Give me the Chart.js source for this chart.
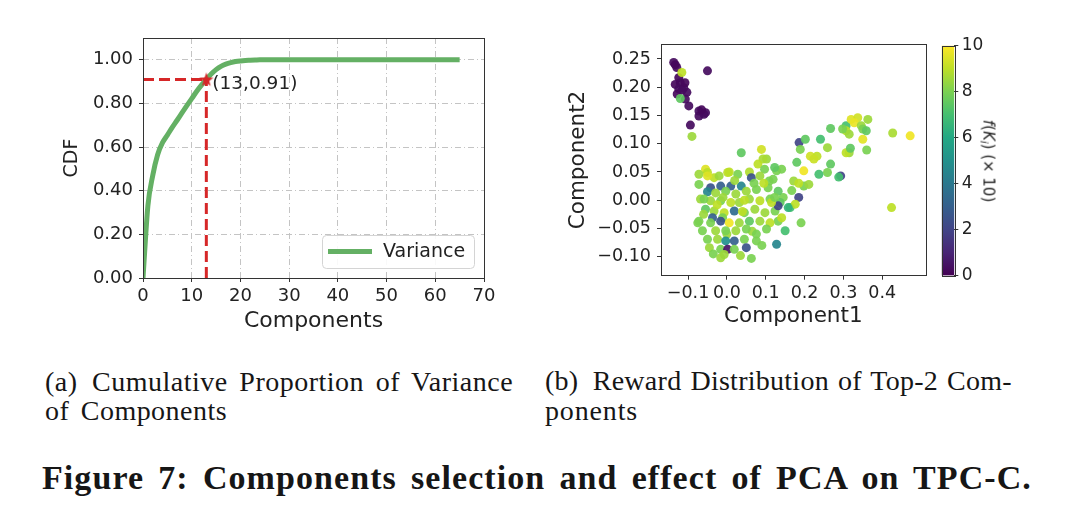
<!DOCTYPE html>
<html>
<head>
<meta charset="utf-8">
<script src="https://cdn.jsdelivr.net/npm/chart.js@4.4.1/dist/chart.umd.min.js"></script>
<style>
html, body { margin: 0; padding: 0; background: #fff; }
body { width: 1080px; height: 523px; position: relative; overflow: hidden; }
canvas { position: absolute; }
.cap { position: absolute; font-family: 'Liberation Serif', serif; font-size: 28px; line-height: 28px; white-space: pre; color: #161616; }
.fig { font-weight: bold; font-size: 34px; line-height: 34px; }
#cbLabel { position: absolute; left: 988px; top: 161px; transform: translate(-50%, -50%) rotate(90deg); font-family: 'DejaVu Sans', sans-serif; font-size: 15px; white-space: nowrap; color: #222; }
#cbLabel sub { font-size: 10px; vertical-align: -3px; }
</style>
</head>
<body>
<canvas id="cdfChart" width="540" height="345" style="left:0;top:0"></canvas>
<canvas id="pcaChart" width="380" height="345" style="left:560px;top:0"></canvas>
<canvas id="cbChart" width="150" height="345" style="left:930px;top:0"></canvas>
<div id="cbLabel"><i>f</i>(<i>K<sub>i</sub></i>) (× 10)</div>

<div class="cap fit" data-w="468" style="left:45px;top:368px">(a)&#8194;Cumulative Proportion of Variance</div>
<div class="cap fit" data-w="182" style="left:45px;top:396.5px">of Components</div>
<div class="cap fit" data-w="467" style="left:545px;top:366.5px">(b)&#8194;Reward Distribution of Top-2 Com-</div>
<div class="cap fit" data-w="93" style="left:545px;top:396.5px">ponents</div>
<div class="cap fig fit" data-w="990" style="left:42px;top:461px">Figure 7: Components selection and effect of PCA on TPC-C.</div>

<script>
// (a) cumulative proportion of variance
var varianceLabel = 'Variance';
var cdfValues = [0, 0.33, 0.47, 0.565, 0.62, 0.655, 0.69, 0.723, 0.757, 0.79,
    0.822, 0.855, 0.884, 0.91, 0.935, 0.955, 0.97, 0.98, 0.987, 0.992,
    0.995, 0.997, 0.998, 0.999, 1, 1, 1, 1, 1, 1,
    1, 1, 1, 1, 1, 1, 1, 1, 1, 1,
    1, 1, 1, 1, 1, 1, 1, 1, 1, 1,
    1, 1, 1, 1, 1, 1, 1, 1, 1, 1,
    1, 1, 1, 1, 1, 1];
var markX = 13;
var markY = 0.91;
var cdfXTicks = [0, 10, 20, 30, 40, 50, 60, 70];
var cdfYTicks = [0, 0.2, 0.4, 0.6, 0.8, 1.0];

// (b) top-2 components, reward f(K_i) x 10
var pcX = [-0.137, -0.129, -0.133, -0.050, -0.124, -0.120, -0.133, -0.111, -0.124, -0.103,
    -0.107, -0.128, -0.098, -0.072, -0.059, -0.072, -0.055, -0.094, -0.115, -0.108,
    -0.065, -0.116, -0.120, -0.090,
    0.472, 0.427, 0.424, 0.267, 0.307, 0.320, 0.337, 0.363, 0.328, 0.346,
    0.350, 0.307, 0.315, 0.298, 0.359, 0.350, 0.360, 0.315, 0.307, 0.318,
    0.186, 0.202, 0.241, 0.259, 0.189, 0.215, 0.232, 0.224, 0.180, 0.267,
    0.259, 0.237, 0.293, 0.288, 0.198, 0.172, 0.198, 0.211, 0.185, 0.141,
    0.145, 0.185, 0.163, 0.176, 0.167, 0.150, 0.191, 0.128, 0.158,
    0.037, 0.089, 0.102, 0.093, 0.080, 0.128, 0.097, 0.123, -0.055, -0.050,
    -0.033, 0.006, 0.028, 0.058, 0.109, 0.119,
    -0.072, -0.050, -0.020, 0.002, 0.063, 0.085, -0.072, -0.042, -0.016, 0.010,
    0.037, -0.050, -0.029, -0.003, 0.023, 0.050, 0.076, 0.106, 0.132, -0.068,
    -0.042, -0.016, 0.010, 0.032, 0.058, 0.085, 0.111, 0.137, -0.055, -0.033,
    -0.007, 0.019, 0.045, 0.072, 0.098, 0.124, -0.037, -0.011, 0.132, 0.115,
    0.123, 0.132, 0.141,
    -0.045, -0.035, 0.035, 0.040, -0.060, -0.025, 0.020, 0.095, 0.065, 0.090,
    0.000, 0.045, -0.010, 0.070,
    -0.072, -0.042, -0.016, 0.006, 0.032, 0.058, 0.085, 0.111, -0.063, -0.029,
    -0.003, 0.023, 0.050, 0.076, 0.102, -0.050, -0.024, -0.003, 0.019, 0.045,
    0.076, -0.016, 0.002, 0.019, 0.050, 0.063, -0.016, -0.007, -0.075, -0.059];
var pcY = [0.244, 0.235, 0.240, 0.229, 0.217, 0.208, 0.205, 0.199, 0.197, 0.191,
    0.179, 0.188, 0.167, 0.158, 0.152, 0.149, 0.155, 0.133, 0.195, 0.208,
    0.160, 0.226, 0.180, 0.113,
    0.114, 0.119, -0.013, 0.127, 0.132, 0.143, 0.146, 0.143, 0.137, 0.132,
    0.126, 0.123, 0.117, 0.126, 0.123, 0.108, 0.089, 0.084, 0.084, 0.092,
    0.102, 0.108, 0.108, 0.093, 0.090, 0.078, 0.078, 0.073, 0.067, 0.064,
    0.049, 0.046, 0.043, 0.041, 0.052, 0.034, 0.025, 0.028, 0.030, 0.055,
    0.005, 0.005, -0.013, -0.007, 0.017, -0.054, -0.040, -0.078, -0.013,
    0.084, 0.090, 0.073, 0.073, 0.064, 0.052, 0.055, 0.058, 0.055, 0.049,
    0.040, 0.050, 0.046, 0.050, 0.034, 0.037,
    0.046, 0.043, 0.043, 0.049, 0.040, 0.043, 0.028, 0.022, 0.025, 0.025,
    0.025, 0.015, 0.013, 0.016, 0.011, 0.016, 0.019, 0.022, 0.016, 0.002,
    -0.001, -0.001, -0.004, -0.004, 0.002, -0.001, 0.002, -0.004, -0.016, -0.019,
    -0.022, -0.019, -0.022, -0.016, -0.022, -0.019, -0.031, -0.031, -0.010, -0.004,
    0.005, -0.037, -0.031,
    -0.084, -0.095, -0.098, -0.020, -0.025, -0.008, 0.035, 0.030, -0.055, -0.080,
    -0.060, 0.000, 0.005, 0.030,
    -0.037, -0.040, -0.037, -0.040, -0.040, -0.037, -0.037, -0.040, -0.054, -0.054,
    -0.054, -0.054, -0.051, -0.060, -0.051, -0.069, -0.069, -0.072, -0.072, -0.069,
    -0.072, -0.087, -0.087, -0.087, -0.084, -0.103, -0.102, -0.096, -0.040, 0.002];
var pcReward = [0.3, 0.3, 0.2, 0.3, 0.2, 0.3, 0.2, 0.4, 0.3, 0.3,
    0.3, 0.2, 0.3, 0.4, 0.3, 0.3, 0.3, 0.3, 0.3, 0.2,
    0.2, 9.0, 7.5, 8.5,
    9.8, 8.7, 9.0, 7.5, 7.0, 9.5, 9.3, 8.5, 9.7, 8.5,
    8.0, 9.0, 8.5, 8.0, 7.5, 9.6, 8.0, 8.5, 9.0, 7.5,
    2.0, 7.5, 7.0, 8.5, 8.0, 9.3, 9.0, 9.2, 7.5, 7.5,
    8.0, 7.0, 2.0, 7.0, 9.8, 8.5, 8.0, 8.5, 9.0, 8.0,
    8.0, 2.0, 7.0, 9.0, 8.0, 7.0, 8.0, 4.5, 6.5,
    7.5, 9.3, 8.5, 8.7, 9.0, 8.0, 8.0, 7.5, 9.5, 9.0,
    9.0, 9.0, 8.0, 8.8, 8.0, 8.0,
    8.5, 9.5, 8.5, 9.0, 2.5, 8.5, 8.0, 2.5, 3.0, 3.0,
    4.5, 4.5, 8.5, 8.0, 8.5, 8.5, 8.0, 8.0, 7.5, 8.5,
    8.5, 8.0, 9.0, 8.5, 8.5, 9.0, 8.0, 7.5, 7.5, 8.5,
    9.0, 3.5, 8.0, 8.5, 8.5, 8.0, 3.0, 8.0, 2.0, 9.0,
    8.0, 8.0, 9.0,
    8.5, 8.0, 8.5, 9.0, 8.5, 9.0, 8.5, 9.0, 8.5, 8.0,
    8.5, 9.0, 8.5, 8.0,
    8.0, 8.0, 2.5, 9.8, 8.5, 7.5, 8.5, 9.0, 8.0, 8.5,
    8.0, 8.5, 8.0, 8.0, 8.0, 8.0, 8.5, 5.0, 3.0, 8.0,
    8.0, 8.0, 0.5, 8.0, 2.5, 8.0, 8.5, 8.5, 8.0, 8.0];
var pcXTicks = [-0.1, 0.0, 0.1, 0.2, 0.3, 0.4];
var pcYTicks = [-0.10, -0.05, 0.00, 0.05, 0.10, 0.15, 0.20, 0.25];
var cbTicks = [0, 2, 4, 6, 8, 10];

var greenColor = '#64b064';
var redColor = '#d62728';
var inkColor = '#222';
var viridisStops = ['#440154', '#482475', '#414487', '#355f8d', '#2a788e', '#21918c',
    '#22a884', '#44bf70', '#7ad151', '#bddf26', '#fde725'];

Chart.defaults.font.family = "'DejaVu Sans', sans-serif";
Chart.defaults.color = inkColor;

function hexRgb(h) {
    return [parseInt(h.substr(1, 2), 16), parseInt(h.substr(3, 2), 16), parseInt(h.substr(5, 2), 16)];
}

/**
 * Viridis colour for t in [0, 1]
 */
function viridis(t, alpha) {
    t = Math.max(0, Math.min(1, t));
    var p = t * (viridisStops.length - 1);
    var i = Math.min(Math.floor(p), viridisStops.length - 2);
    var f = p - i;
    var a = hexRgb(viridisStops[i]), b = hexRgb(viridisStops[i + 1]);
    var c = a.map(function(v, k) { return Math.round(v + (b[k] - v) * f); });
    return 'rgba(' + c[0] + ',' + c[1] + ',' + c[2] + ',' + (alpha === undefined ? 1 : alpha) + ')';
}

function minusSign(s) {
    return s.replace('-', '\u2212');
}

function fixTicks(list) {
    return function(scale) {
        scale.ticks = list.map(function(v) { return {value: v}; });
    };
}

// filled five point star for the marker
var starImg = document.createElement('canvas');
starImg.width = 16;
starImg.height = 16;
(function() {
    var c = starImg.getContext('2d');
    c.fillStyle = redColor;
    c.beginPath();
    for (var k = 0; k < 10; k++) {
        var r = k % 2 === 0 ? 7.5 : 3;
        var ang = -Math.PI / 2 + k * Math.PI / 5;
        c.lineTo(8 + r * Math.cos(ang), 8.5 + r * Math.sin(ang));
    }
    c.closePath();
    c.fill();
})();

var framePlugin = {
    id: 'frame',
    afterDraw: function(chart) {
        var a = chart.chartArea, ctx = chart.ctx;
        ctx.save();
        ctx.strokeStyle = '#333';
        ctx.lineWidth = 1;
        ctx.strokeRect(Math.round(a.left) + 0.5, Math.round(a.top) + 0.5,
            Math.round(a.right - a.left), Math.round(a.bottom - a.top));
        ctx.restore();
    }
};

var markLabelPlugin = {
    id: 'markLabel',
    afterDatasetsDraw: function(chart) {
        var ctx = chart.ctx;
        var px = chart.scales.x.getPixelForValue(markX);
        var py = chart.scales.y.getPixelForValue(markY);
        ctx.save();
        ctx.fillStyle = inkColor;
        ctx.font = "18.5px 'DejaVu Sans'";
        ctx.textBaseline = 'middle';
        ctx.fillText('(' + markX + ',' + markY + ')', px + 6, py + 5);
        ctx.restore();
    }
};

var legendPlugin = {
    id: 'varianceLegend',
    afterDraw: function(chart) {
        var a = chart.chartArea, ctx = chart.ctx;
        var w = 152, h = 33;
        var x = Math.round(a.right - 10 - w), y = Math.round(a.bottom - 10 - h);
        ctx.save();
        ctx.fillStyle = 'rgba(255,255,255,0.9)';
        ctx.strokeStyle = '#d4d4d4';
        ctx.lineWidth = 1;
        ctx.beginPath();
        ctx.roundRect(x + 0.5, y + 0.5, w, h, 4);
        ctx.fill();
        ctx.stroke();
        ctx.strokeStyle = greenColor;
        ctx.lineWidth = 5;
        ctx.beginPath();
        ctx.moveTo(x + 6, y + h / 2);
        ctx.lineTo(x + 50, y + h / 2);
        ctx.stroke();
        ctx.fillStyle = inkColor;
        ctx.font = "19px 'DejaVu Sans'";
        ctx.textBaseline = 'middle';
        ctx.fillText(varianceLabel, x + 61, y + h / 2 + 1);
        ctx.restore();
    }
};

// Creating the CDF chart
var cdfPoints = cdfValues.map(function(v, i) { return {x: i, y: v}; });
new Chart(document.getElementById('cdfChart'), {
    type: 'line',
    data: {
        datasets: [{
            data: [{x: markX, y: markY}],
            showLine: false,
            pointStyle: starImg,
            pointRadius: 7,
            pointHoverRadius: 7
        }, {
            data: [{x: 0, y: markY}, {x: markX, y: markY}],
            borderColor: redColor,
            borderWidth: 3,
            borderDash: [11, 5],
            pointRadius: 0
        }, {
            data: [{x: markX, y: 0}, {x: markX, y: markY}],
            borderColor: redColor,
            borderWidth: 3,
            borderDash: [11, 5],
            pointRadius: 0
        }, {
            label: varianceLabel,
            data: cdfPoints,
            borderColor: greenColor,
            borderWidth: 5,
            pointRadius: 0,
            cubicInterpolationMode: 'monotone'
        }]
    },
    options: {
        responsive: false,
        animation: false,
        devicePixelRatio: 1,
        layout: {padding: {left: 0, top: 38, right: 56, bottom: 0}},
        plugins: {legend: {display: false}, tooltip: {enabled: false}},
        scales: {
            x: {
                type: 'linear', min: 0, max: 70,
                afterBuildTicks: fixTicks(cdfXTicks),
                afterFit: function(s) { s.height = 67; },
                ticks: {font: {size: 18}, padding: 4, maxRotation: 0, autoSkip: false,
                    callback: function(v) { return String(v); }},
                grid: {color: '#c4c4c4', lineWidth: 1, tickLength: 4, tickColor: '#333'},
                border: {display: false, dash: [6, 3, 1, 3]},
                title: {display: true, text: 'Components', font: {size: 22}, padding: {top: 0, bottom: 11}}
            },
            y: {
                type: 'linear', min: 0, max: 1.1,
                afterBuildTicks: fixTicks(cdfYTicks),
                afterFit: function(s) { s.width = 143; },
                ticks: {font: {size: 18}, padding: 6, autoSkip: false,
                    callback: function(v) { return v.toFixed(2); }},
                grid: {color: '#c4c4c4', lineWidth: 1, tickLength: 4, tickColor: '#333'},
                border: {display: false, dash: [6, 3, 1, 3]},
                title: {display: true, text: 'CDF', font: {size: 19}, padding: {top: 61, bottom: 0}}
            }
        }
    },
    plugins: [framePlugin, markLabelPlugin, legendPlugin]
});

// Creating the PCA scatter
var pcPoints = pcX.map(function(v, i) { return {x: v, y: pcY[i]}; });
var pcColors = pcReward.map(function(r) { return viridis(r / 10, 0.92); });
new Chart(document.getElementById('pcaChart'), {
    type: 'scatter',
    data: {
        datasets: [{
            data: pcPoints,
            backgroundColor: pcColors,
            borderWidth: 0,
            pointRadius: 4.5,
            pointHoverRadius: 4.5
        }]
    },
    options: {
        responsive: false,
        animation: false,
        devicePixelRatio: 1,
        layout: {padding: {left: 0, top: 44.3, right: 14.3, bottom: 0}},
        plugins: {legend: {display: false}, tooltip: {enabled: false}},
        scales: {
            x: {
                type: 'linear', min: -0.1697, max: 0.512,
                afterBuildTicks: fixTicks(pcXTicks),
                afterFit: function(s) { s.height = 69.3; },
                ticks: {font: {size: 17.5}, padding: 3, maxRotation: 0, autoSkip: false,
                    callback: function(v) { return minusSign(v.toFixed(1)); }},
                grid: {drawOnChartArea: false, tickLength: 4, tickColor: '#333'},
                border: {display: false},
                title: {display: true, text: 'Component1', font: {size: 21.5}, padding: {top: 0, bottom: 15.4}}
            },
            y: {
                type: 'linear', min: -0.1336, max: 0.276,
                afterBuildTicks: fixTicks(pcYTicks),
                afterFit: function(s) { s.width = 101; },
                ticks: {font: {size: 17.5}, padding: 6, autoSkip: false,
                    callback: function(v) { return minusSign(v.toFixed(2)); }},
                grid: {drawOnChartArea: false, tickLength: 4, tickColor: '#333'},
                border: {display: false},
                title: {display: true, text: 'Component2', font: {size: 21.5}, padding: {top: 5.4, bottom: 0}}
            }
        }
    },
    plugins: [framePlugin]
});

// Creating the colour bar
new Chart(document.getElementById('cbChart'), {
    type: 'bar',
    data: {
        labels: [''],
        datasets: [{
            data: [[cbTicks[0], cbTicks[cbTicks.length - 1]]],
            backgroundColor: function(c) {
                var a = c.chart.chartArea;
                if (!a) return viridis(0.5);
                var g = c.chart.ctx.createLinearGradient(0, a.bottom, 0, a.top);
                viridisStops.forEach(function(s, i) { g.addColorStop(i / (viridisStops.length - 1), s); });
                return g;
            },
            borderWidth: 0,
            barPercentage: 1,
            categoryPercentage: 1
        }]
    },
    options: {
        responsive: false,
        animation: false,
        devicePixelRatio: 1,
        layout: {padding: {left: 11.7, top: 45.7, right: 0, bottom: 69.3}},
        plugins: {legend: {display: false}, tooltip: {enabled: false}},
        scales: {
            x: {display: false},
            y: {
                position: 'right', min: cbTicks[0], max: cbTicks[cbTicks.length - 1],
                afterBuildTicks: fixTicks(cbTicks),
                afterFit: function(s) { s.width = 125.7; },
                ticks: {font: {size: 17}, padding: 3.4, autoSkip: false},
                grid: {drawOnChartArea: false, tickLength: 4, tickColor: '#333'},
                border: {display: false}
            }
        }
    },
    plugins: [framePlugin]
});

// fit caption lines to the measured widths, half by letter and half by word spacing
function fitCaptions() {
    var els = document.querySelectorAll('.fit');
    for (var i = 0; i < els.length; i++) {
        var el = els[i];
        el.style.letterSpacing = '0px';
        el.style.wordSpacing = '0px';
        var w = el.getBoundingClientRect().width;
        var text = el.textContent;
        var n = text.length;
        var words = (text.match(/ /g) || []).length;
        var gap = parseFloat(el.getAttribute('data-w')) - w;
        var wordPart = words ? gap * 0.4 : 0;
        el.style.letterSpacing = ((gap - wordPart) / n).toFixed(2) + 'px';
        if (words) el.style.wordSpacing = (wordPart / words).toFixed(2) + 'px';
    }
}
fitCaptions();
if (document.fonts && document.fonts.ready) {
    document.fonts.ready.then(fitCaptions);
}
</script>
</body>
</html>
